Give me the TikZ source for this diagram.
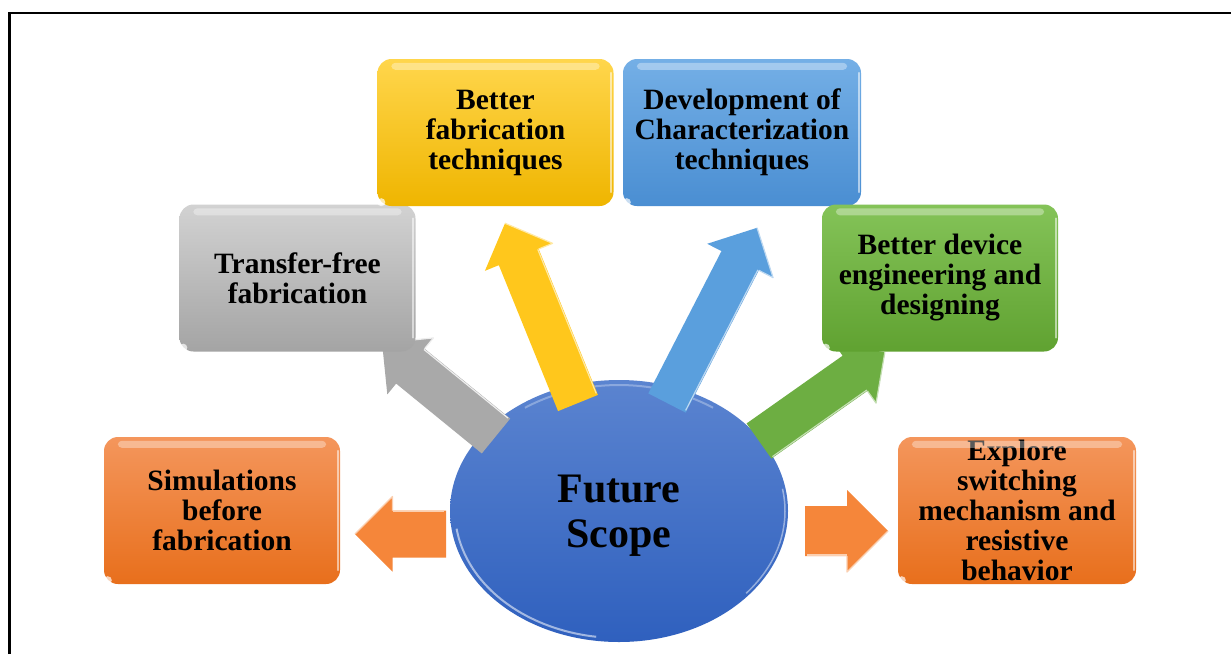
\documentclass[tikz,border=0pt]{standalone}
\usepackage{fontspec}
\setmainfont{Liberation Serif}
\usetikzlibrary{shapes.geometric}
\definecolor{orTop}{HTML}{F4965C}
\definecolor{orBot}{HTML}{E86F1C}
\definecolor{orArr}{HTML}{F5863A}
\definecolor{grTop}{HTML}{D2D2D2}
\definecolor{grBot}{HTML}{A4A4A4}
\definecolor{grArr}{HTML}{A9A9A9}
\definecolor{yeTop}{HTML}{FFD64C}
\definecolor{yeBot}{HTML}{EFB500}
\definecolor{yeArr}{HTML}{FFC71C}
\definecolor{blTop}{HTML}{74AFE6}
\definecolor{blBot}{HTML}{4A8ED2}
\definecolor{blArr}{HTML}{5A9FDD}
\definecolor{gnTop}{HTML}{84C358}
\definecolor{gnBot}{HTML}{60A231}
\definecolor{gnArr}{HTML}{6DAE42}
\definecolor{elTop}{HTML}{5B84D0}
\definecolor{elBot}{HTML}{2F60BE}
\tikzset{
  box/.style={rounded corners=14pt, minimum width=236pt, minimum height=147pt,
    inner sep=0pt, align=center, text=black,
    font=\fontsize{29.5}{30}\selectfont\bfseries},
  orangebox/.style={box, top color=orTop, bottom color=orBot},
  graybox/.style={box, top color=grTop, bottom color=grBot},
  yellowbox/.style={box, top color=yeTop, bottom color=yeBot},
  bluebox/.style={box, top color=blTop, bottom color=blBot},
  greenbox/.style={box, top color=gnTop, bottom color=gnBot},
  hilite/.style={white, opacity=0.35},
  edgelite/.style={white, opacity=0.55, line width=1.6pt, line cap=round},
}
\newcommand{\blockarrow}[7]{%
  \begin{scope}[shift={(#1)}, rotate=#2]
    \fill[#6] (0,{-#4/2}) -- ({#3-#5/2},{-#4/2}) -- ({#3-#5/2},{-#5/2}) -- (#3,0)
      -- ({#3-#5/2},{#5/2}) -- ({#3-#5/2},{#4/2}) -- (0,{#4/2}) -- cycle;
    \draw[#7, line width=1.2pt, line join=round] ({#3-#5/2},{#4/2}) -- ({#3-#5/2},{#5/2}) -- (#3,0);
    \draw[#7, line width=1.2pt] (2,{#4/2-1}) -- ({#3-#5/2},{#4/2-1});
  \end{scope}}
\newcommand{\boxlite}[1]{%
  \fill[hilite, rounded corners=4pt] ([xshift=14pt,yshift=-4pt]#1.north west) rectangle ([xshift=-14pt,yshift=-11pt]#1.north east);
  \draw[edgelite] ([xshift=-2.5pt,yshift=-14pt]#1.north east) -- ([xshift=-2.5pt,yshift=14pt]#1.south east);
  \fill[white, opacity=0.7] ([xshift=4pt,yshift=4pt]#1.south west) circle (4pt);}
\begin{document}
\begin{tikzpicture}[x=1pt, y=-1pt]
\useasboundingbox (0,0) rectangle (1231,654);
\fill[white] (0,0) rectangle (1231,654);
\draw[line width=2.5pt] (9.7,654) -- (9.7,12.8) -- (1231,12.8);

% centre ellipse
\node[ellipse, minimum width=338pt, minimum height=262pt, inner sep=0pt,
  top color=elTop, bottom color=elBot] (fs) at (619,511) {};
\draw[white, opacity=0.55, line width=2pt] plot[domain=188:262, samples=40]
  ({619+164*cos(\x)},{511-127*sin(\x)});
\draw[white, opacity=0.3, line width=2pt] plot[domain=55:125, samples=40]
  ({619+164*cos(\x)},{511-126*sin(\x)});
\draw[white, opacity=0.45, line width=1.5pt] plot[domain=-40:10, samples=30]
  ({619+166*cos(\x)},{511-128*sin(\x)});

% arrow tails
\coordinate (tGray) at (496,436);
\coordinate (tYel) at (578,403);
\coordinate (tBlu) at (667,403);
\coordinate (tGrn) at (759,441);
\coordinate (tLeft) at (446,534);
\coordinate (tRight) at (805,531);

\blockarrow{tGray}{140.8}{147}{45}{73}{grArr}{white!80!grArr}
\blockarrow{tYel}{112.1}{194}{43}{73}{yeArr}{white!60!yeArr}
\blockarrow{tBlu}{62.8}{197}{42}{74}{blArr}{white!60!blArr}
\blockarrow{tGrn}{35.2}{154}{43}{73}{gnArr}{white!60!gnArr}
\blockarrow{tLeft}{180}{91}{47}{75}{orArr}{white!60!orArr}
\blockarrow{tRight}{0}{83}{50}{82}{orArr}{white!60!orArr}

% boxes
\node[orangebox] (sim) at (222,510.5) {Simulations\\before\\fabrication};
\node[graybox] (tff) at (297.5,278) {Transfer-free\\fabrication};
\node[yellowbox] (bfab) at (495.5,132.5) {Better\\fabrication\\techniques};
\node[bluebox, minimum width=238pt] (dev) at (742,132.5) {Development of\\Characterization\\techniques};
\node[greenbox] (bdev) at (940,278) {Better device\\engineering and\\designing};
\node[orangebox, minimum width=238pt] (expl) at (1017,510.5) {Explore\\switching\\mechanism and\\resistive\\behavior};
\boxlite{sim}\boxlite{tff}\boxlite{bfab}\boxlite{dev}\boxlite{bdev}\boxlite{expl}

\node[font=\fontsize{42}{45}\selectfont\bfseries, align=center, inner sep=0pt] (fst) at (619,516) {Future\\Scope};
\end{tikzpicture}
\end{document}
